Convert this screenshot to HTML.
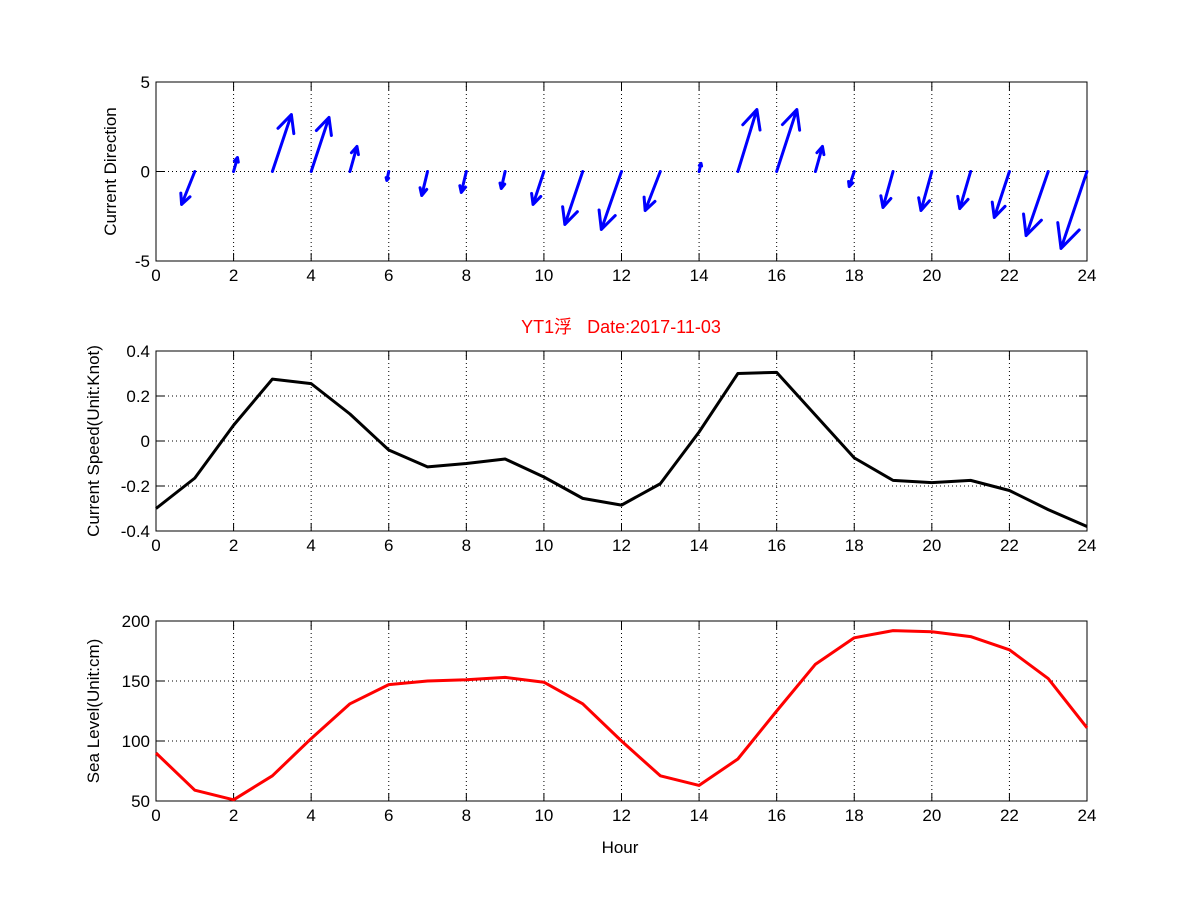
<!DOCTYPE html>
<html><head><meta charset="utf-8"><style>
body{margin:0;background:#fff}
svg text{font-family:"Liberation Sans","Noto Sans CJK SC",sans-serif;font-size:17px;fill:#000}
</style></head><body>
<svg id="fig" width="1201" height="901" xmlns="http://www.w3.org/2000/svg">
<rect width="1201" height="901" fill="#fff"/>
</svg>
<script>
const hours=[0,1,2,3,4,5,6,7,8,9,10,11,12,13,14,15,16,17,18,19,20,21,22,23,24];
const speed=[-0.30,-0.165,0.07,0.275,0.255,0.12,-0.04,-0.115,-0.10,-0.08,-0.16,-0.255,-0.285,-0.19,0.04,0.30,0.305,0.115,-0.075,-0.175,-0.185,-0.175,-0.22,-0.305,-0.38];
const seaLevel=[90,59,51,71,102,131,147,150,151,153,149,131,100,71,63,85,125,164,186,192,191,187,176,152,111];
const arrowHours=[1,2,3,4,5,6,7,8,9,10,11,12,13,14,15,16,17,18,19,20,21,22,23,24];
const arrowU=[-0.34,0.10,0.49,0.46,0.18,-0.05,-0.15,-0.13,-0.10,-0.28,-0.46,-0.52,-0.39,0.05,0.49,0.52,0.18,-0.13,-0.26,-0.28,-0.28,-0.39,-0.57,-0.67];
const arrowV=[-1.84,0.78,3.18,3.02,1.40,-0.50,-1.34,-1.17,-0.95,-1.84,-2.96,-3.24,-2.18,0.45,3.46,3.46,1.40,-0.84,-2.01,-2.18,-2.07,-2.57,-3.58,-4.30];
const xTicks=[0,2,4,6,8,10,12,14,16,18,20,22,24];
const dirTicks=[-5,0,5];
const speedTicks=[-0.4,-0.2,0,0.2,0.4];
const levelTicks=[50,100,150,200];

const NS="http://www.w3.org/2000/svg";
const svg=document.getElementById('fig');
function el(t,a,p){const e=document.createElementNS(NS,t);for(const k in a)e.setAttribute(k,a[k]);(p||svg).appendChild(e);return e;}
const L=156,R=1087;
const xs=h=>L+(h-0)/(24-0)*(R-L);
function panel(name,top,bot,ymin,ymax,yticks,ylabel,fmt,labOff){
  const g=el('g',{},svg);
  
  
  const ys=v=>bot-(v-ymin)/(ymax-ymin)*(bot-top);
  xTicks.forEach(t=>{const x=xs(t);
    if(t>0&&t<24){const gl=el('line',{x1:x,x2:x,y1:top,y2:bot,stroke:'#000','stroke-width':1,'stroke-dasharray':'1,3'},g);}
    el('line',{x1:x,x2:x,y1:bot,y2:bot-8,stroke:'#000'},g);el('line',{x1:x,x2:x,y1:top,y2:top+8,stroke:'#000'},g);
    const tx=el('text',{x:x,y:bot+20,'text-anchor':'middle'},g);tx.textContent=t;
    });
  yticks.forEach(t=>{const y=ys(t);
    if(t>ymin&&t<ymax){const gl=el('line',{x1:L,x2:R,y1:y,y2:y,stroke:'#000','stroke-width':1,'stroke-dasharray':'1,3'},g);}
    el('line',{x1:L,x2:L+8,y1:y,y2:y,stroke:'#000'},g);el('line',{x1:R,x2:R-8,y1:y,y2:y,stroke:'#000'},g);
    const tx=el('text',{x:L-6,y:y+6,'text-anchor':'end'},g);tx.textContent=fmt(t);
    });
  const fr=el('rect',{x:L,y:top,width:R-L,height:bot-top,fill:'none',stroke:'#000','stroke-width':1},g);
  
  const yl=el('text',{x:0,y:0,'text-anchor':'middle',transform:`translate(${L-labOff},${(top+bot)/2}) rotate(-90)`},g);
  yl.textContent=ylabel;
  return {g,ys};
}
const p1=panel('direction-panel',82,261,-5,5,dirTicks,'Current Direction',t=>t,40);
arrowHours.forEach((h,i)=>{
  const x0=xs(h),y0=p1.ys(0);
  const x1=x0+arrowU[i]*(R-L)/24,y1=y0-arrowV[i]*(261-82)/10;
  const dx=x1-x0,dy=y1-y0,len=Math.hypot(dx,dy),ang=Math.atan2(dy,dx),hl=len*0.32,a=0.45;
  const d=`M${x0},${y0}L${x1},${y1}M${x1-hl*Math.cos(ang-a)},${y1-hl*Math.sin(ang-a)}L${x1},${y1}L${x1-hl*Math.cos(ang+a)},${y1-hl*Math.sin(ang+a)}`;
  const p=el('path',{d:d,stroke:'#0000ff','stroke-width':3,fill:'none','stroke-linecap':'round','stroke-linejoin':'round'},p1.g);
  
  
});
const p2=panel('speed-panel',351,531,-0.4,0.4,speedTicks,'Current Speed(Unit:Knot)',t=>t===0?'0':t.toFixed(1),57);
const sp=el('polyline',{points:hours.map((h,i)=>xs(h)+','+p2.ys(speed[i])).join(' '),fill:'none',stroke:'#000','stroke-width':3,'stroke-linejoin':'round'},p2.g);

const ti=el('text',{x:621,y:333,'text-anchor':'middle',fill:'#ff0000',style:'fill:#ff0000;font-size:18px'},svg);
ti.textContent='YT1浮\u00a0\u00a0\u00a0Date:2017-11-03';

const p3=panel('sea-level-panel',621,801,50,200,levelTicks,'Sea Level(Unit:cm)',t=>t,57);
const sl=el('polyline',{points:hours.map((h,i)=>xs(h)+','+p3.ys(seaLevel[i])).join(' '),fill:'none',stroke:'#ff0000','stroke-width':3,'stroke-linejoin':'round'},p3.g);

const xl=el('text',{x:620,y:853,'text-anchor':'middle'},svg);xl.textContent='Hour';

</script>
</body></html>
